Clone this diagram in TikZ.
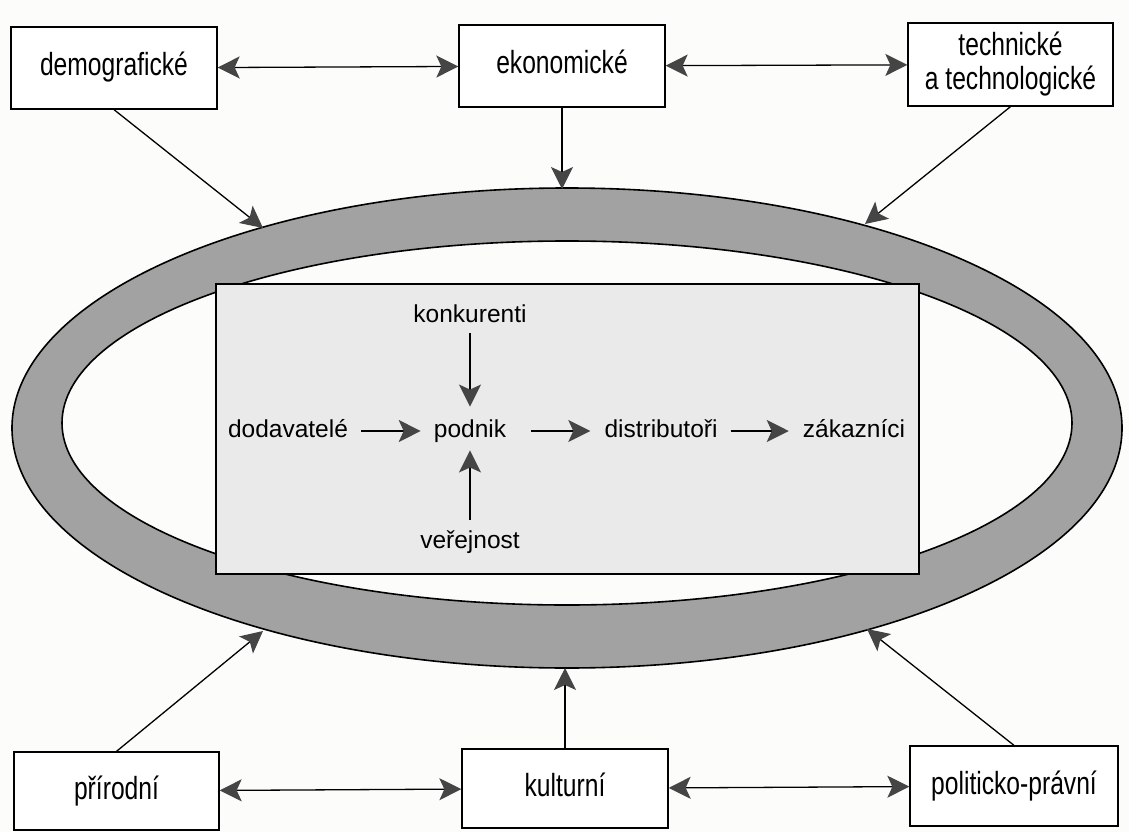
\documentclass[tikz,border=0pt]{standalone}
\usepackage{fontspec}
\setmainfont{Liberation Sans}
\newfontfamily\boxfont{Liberation Sans}[FakeStretch=0.77]
\usetikzlibrary{arrows.meta}
\definecolor{bandgray}{HTML}{A2A2A2}
\definecolor{rectgray}{HTML}{EAEAEA}
\definecolor{tipgray}{HTML}{454545}
\definecolor{bg}{HTML}{FCFCFA}
\begin{document}
\begin{tikzpicture}[x=1pt,y=-1pt,
  env/.style={draw=black, line width=1.3pt, fill=white, inner sep=0pt,
    font=\boxfont\fontsize{32}{34}\selectfont, minimum width=206pt, minimum height=82pt},
  oneline/.style={text height=24pt, text depth=8pt},
  item/.style={inner sep=0pt, font=\fontsize{24.5}{28}\selectfont, text height=18.4pt, text depth=6.1pt},
  link/.style={line width=1.3pt, -{Stealth[length=22pt,width=22pt,inset=5pt,color=tipgray]}},
  dlink/.style={line width=1.3pt, {Stealth[length=22pt,width=22pt,inset=5pt,color=tipgray]}-{Stealth[length=22pt,width=22pt,inset=5pt,color=tipgray]}},
]
\fill[bg] (0,0) rectangle (1129,832);
\path[use as bounding box] (0,0) rectangle (1129,832);

% environment ring
\draw[line width=1.6pt, fill=bandgray] (567,428) ellipse [x radius=555, y radius=240];
\draw[line width=1.6pt, fill=bg] (567,423) ellipse [x radius=505, y radius=182];

% inner rectangle
\node[draw, line width=1.4pt, fill=rectgray, minimum width=703pt, minimum height=290pt, inner sep=0pt] (firm) at (567.5,429) {};

% points on the ring
\coordinate (e1) at (263,228);
\coordinate (e2) at (562,189);
\coordinate (e3) at (865,224);
\coordinate (e4) at (263,631);
\coordinate (e5) at (565,668);
\coordinate (e6) at (867,629);

% inner items
\node[item] (konk) at (470,316) {konkurenti};
\node[item] (podnik) at (470,431) {podnik};
\node[item] (dod) at (288,431) {dodavatelé};
\node[item] (dist) at (661,431) {distributoři};
\node[item] (zak) at (854,431) {zákazníci};
\node[item] (ver) at (470,542) {veřejnost};

\draw[link, shorten <=13pt, shorten >=13pt] (dod) -- (podnik);
\draw[link, shorten <=25pt, shorten >=14pt] (podnik) -- (dist);
\draw[link, shorten <=13pt, shorten >=14pt] (dist) -- (zak);
\draw[link, shorten <=5pt, shorten >=12pt] (konk) -- (podnik);
\draw[link, shorten <=10pt, shorten >=7pt] (ver) -- (podnik);

% outer boxes
\node[env, oneline] (demo) at (114,68) {demografické};
\node[env, oneline] (eko) at (562,66) {ekonomické};
\node[env, align=center, minimum height=83pt, minimum width=205pt] (tech) at (1010.5,64.5) {technické\\a technologické};
\node[env, oneline, minimum width=205pt, minimum height=78pt] (prir) at (116.5,791) {přírodní};
\node[env, oneline, minimum height=79pt] (kult) at (565,788.5) {kulturní};
\node[env, oneline, minimum width=208pt, minimum height=80pt] (pol) at (1014,786) {politicko-právní};

% connectors
\draw[dlink] (demo) -- (eko);
\draw[dlink] (eko) -- (tech);
\draw[dlink] (prir) -- (kult);
\draw[dlink] (kult) -- (pol);
\draw[link] (demo.south) -- (e1);
\draw[link] (eko) -- (e2);
\draw[link] (tech.south) -- (e3);
\draw[link] (prir.north) -- (e4);
\draw[link] (kult) -- (e5);
\draw[link] (pol.north) -- (e6);
\end{tikzpicture}
\end{document}
